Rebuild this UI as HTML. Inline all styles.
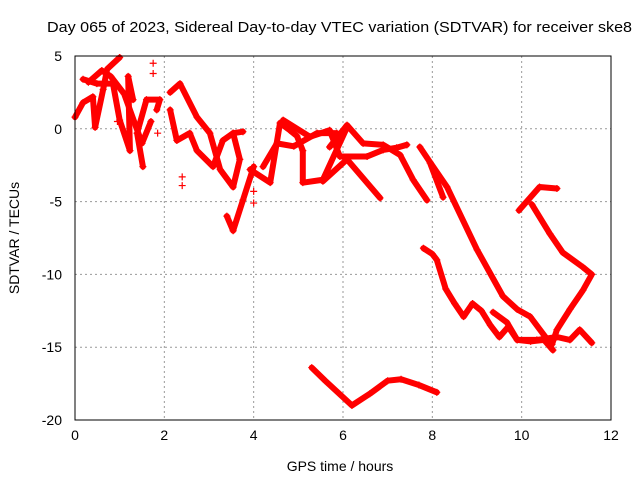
<!DOCTYPE html>
<html><head><meta charset="utf-8"><style>
body{margin:0;background:#fff}
text{font-family:"Liberation Sans",sans-serif;font-size:14px;fill:#000}
</style></head><body>
<svg id="chart" width="640" height="480" xmlns="http://www.w3.org/2000/svg">
<rect width="640" height="480" fill="#fff"/>
<text x="47" y="32" textLength="585" lengthAdjust="spacingAndGlyphs" style="font-size:15px">Day 065 of 2023, Sidereal Day-to-day VTEC variation (SDTVAR) for receiver ske8</text>
<g id="grid"></g>
<g id="series"></g>
<rect x="75" y="56" width="536" height="364" fill="none" stroke="#000" stroke-width="1"/>
<g id="ticks"></g>
<text x="340" y="471" text-anchor="middle">GPS time / hours</text>
<text x="0" y="0" text-anchor="middle" transform="translate(19,238) rotate(-90)">SDTVAR / TECUs</text>
</svg>
<script>
const xTicks=[0,2,4,6,8,10,12];
const yTicks=[5,0,-5,-10,-15,-20];
const trackA=[[5.3,-16.4],[5.6,-17.3],[6.2,-19.0],[6.6,-18.2],[7.0,-17.3],[7.3,-17.2],[7.7,-17.6],[8.1,-18.1]];
const trackB=[[7.8,-8.2],[8.0,-8.6],[8.1,-9.0],[8.3,-11.0],[8.5,-12.0],[8.7,-12.9],[8.9,-12.0],[9.1,-12.5],[9.3,-13.5],[9.5,-14.3],[9.7,-13.6],[9.9,-14.5],[10.2,-14.6],[10.5,-14.5],[10.7,-15.2]];
const trackC=[[7.72,-1.25],[7.95,-2.3],[8.33,-4.0],[9.0,-8.3],[9.58,-11.5],[9.9,-12.4],[10.19,-12.9],[10.63,-14.7]];
const trackC2=[[7.95,-2.35],[8.24,-4.7]];
const trackD=[[9.94,-5.6],[10.4,-4.0],[10.79,-4.1]];
const trackE=[[10.23,-5.2],[10.63,-7.2],[10.92,-8.5],[11.37,-9.5],[11.57,-10.0],[11.37,-11.1],[11.08,-12.4],[10.79,-13.8],[10.68,-14.8]];
const trackF=[[9.36,-12.6],[9.67,-13.3],[9.9,-14.5],[10.34,-14.5],[10.79,-14.3],[11.08,-14.5],[11.3,-13.8],[11.57,-14.7]];
const trackG=[[5.55,-3.6],[6.09,-2.1],[6.83,-4.75]];
const trackH=[[5.7,-1.25],[6.09,0.25],[6.45,-1.0],[6.9,-1.1],[7.28,-1.8],[7.57,-3.5],[7.88,-4.9]];
const trackI=[[4.66,0.6],[5.26,-0.55],[5.7,-0.1],[5.93,-1.9],[6.54,-1.9],[6.9,-1.45],[7.2,-1.3],[7.43,-1.1]];
const trackL1=[[0,0.8],[0.18,1.8],[0.4,2.2],[0.45,0.1],[0.63,2.7],[0.72,4.1],[1.0,4.9]];
const trackL2=[[0.18,3.4],[0.49,3.1],[0.85,3.1],[1.0,0.6],[1.23,-1.5],[1.19,3.6],[1.3,2.0]];
const trackL3=[[1.52,-2.6],[1.39,-0.3],[1.6,2.0],[1.9,2.0],[1.83,1.3]];
const trackL4=[[2.13,2.5],[2.35,3.1],[2.73,0.8],[3.02,-0.3],[3.25,-2.8],[3.54,-4.0],[3.69,-2.1],[3.54,-0.3],[3.76,-0.2]];
const trackL5=[[2.13,1.3],[2.28,-0.8],[2.57,-0.3],[2.73,-1.5],[3.09,-2.6],[3.31,-0.8],[3.54,-0.3]];
const trackL6=[[3.92,-2.8],[4.37,-3.7],[4.59,0.4],[4.81,-0.1],[4.97,-0.5],[5.1,-1.5],[5.1,-3.7],[5.55,-3.5],[6.09,0.1]];
const trackL7=[[4.21,-2.6],[4.52,-1.0],[4.9,-1.2],[5.42,-0.3],[5.86,-0.3]];
const trackL8=[[3.4,-6.0],[3.54,-7.0],[3.76,-4.9],[4.0,-2.6]];
const trackL9=[[0.3,3.2],[0.6,4.0],[0.8,3.6],[1.1,2.4],[1.5,-1.0],[1.7,0.5]];
const outliers=[[1.75,4.5],[1.75,3.8],[2.4,-3.3],[2.4,-3.9],[4.0,-4.3],[4.0,-5.1],[0.95,0.5],[1.85,-0.3]];
const tracks=[trackA,trackB,trackC,trackC2,trackD,trackE,trackF,trackG,trackH,trackI,trackL1,trackL2,trackL3,trackL4,trackL5,trackL6,trackL7,trackL8,trackL9];
const NS="http://www.w3.org/2000/svg";
const X=t=>75+t*536/12, Y=v=>56+(5-v)*364/25;
const grid=document.getElementById('grid'),ticks=document.getElementById('ticks'),ser=document.getElementById('series');
function mk(tag,a,p){const e=document.createElementNS(NS,tag);for(const k in a)e.setAttribute(k,a[k]);p.appendChild(e);return e;}
xTicks.forEach(t=>{
 if(t>0&&t<12){const g=mk('line',{x1:X(t),x2:X(t),y1:56,y2:420,stroke:'#999','stroke-dasharray':'2,3'},grid);
 
 }
 const l=mk('text',{x:X(t),y:440,'text-anchor':'middle'},ticks);l.textContent=t;
 
 
});
yTicks.forEach(v=>{
 if(v<5&&v>-20){const g=mk('line',{x1:75,x2:611,y1:Y(v),y2:Y(v),stroke:'#999','stroke-dasharray':'2,3'},grid);
 
 }
 const l=mk('text',{x:62,y:Y(v)+5,'text-anchor':'end'},ticks);l.textContent=v;
 
 
});
tracks.forEach(tr=>{
 const p=mk('polyline',{points:tr.map(d=>X(d[0])+','+Y(d[1])).join(' '),fill:'none',stroke:'#f00','stroke-width':6,'stroke-linejoin':'round','stroke-linecap':'round'},ser);
 
 
});
tracks.concat([outliers]).forEach(tr=>tr.forEach(d=>{
 const x=X(d[0]),y=Y(d[1]);
 const m=mk('path',{d:`M${x-3.5},${y}H${x+3.5}M${x},${y-3.5}V${y+3.5}`,stroke:'#f00','stroke-width':1.2},ser);
 
 
}));
</script>
</body></html>
